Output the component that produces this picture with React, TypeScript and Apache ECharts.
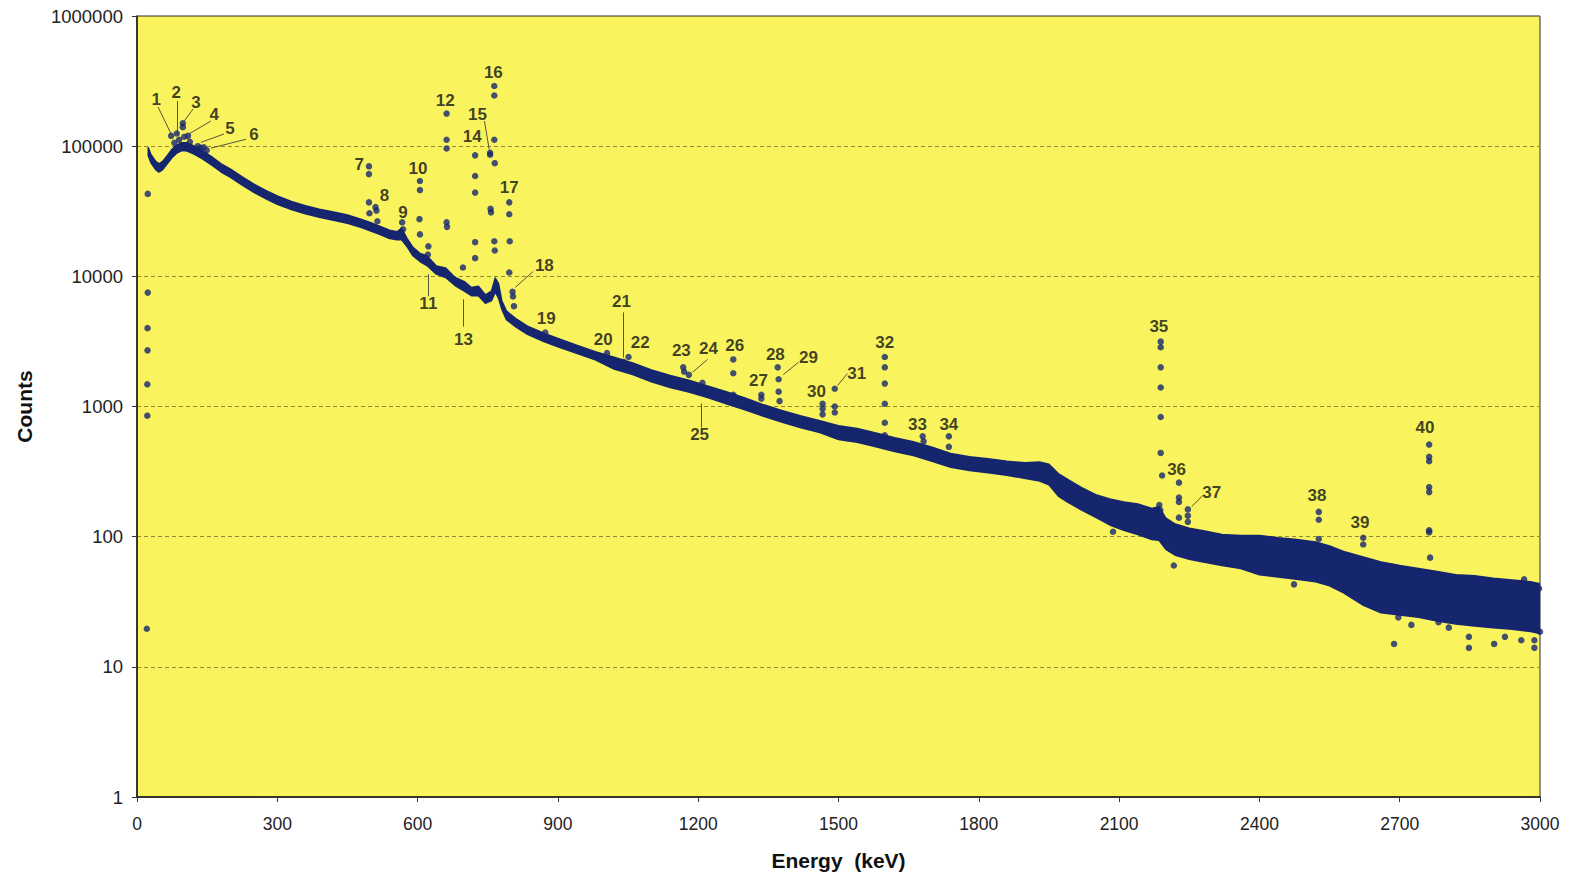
import React, { useEffect, useRef } from "react";
import * as echarts from "echarts";

// ---- axis ticks ----
const yTickLabels = ["1", "10", "100", "1000", "10000", "100000", "1000000"];

// ---- continuum band (energy keV, upper and lower edge of the dense band, counts) ----
const bandEnergy = [
  24, 30, 40, 47, 55, 65, 75, 85, 95, 105,
  115, 125, 140, 160, 180, 200, 225, 250, 275, 300,
  330, 360, 390, 420, 450, 480, 500, 520, 540, 556,
  566, 576, 590, 605, 620, 640, 660, 680, 700, 715,
  730, 745, 758, 766, 773, 780, 790, 810, 835, 870,
  900, 940, 980, 1020, 1060, 1100, 1140, 1180, 1220, 1260,
  1300, 1340, 1380, 1420, 1460, 1500, 1540, 1580, 1620, 1660,
  1700, 1740, 1780, 1820, 1860, 1900, 1930, 1950, 1970, 1990,
  2020, 2050, 2080, 2110, 2140, 2170, 2185, 2200, 2220, 2250,
  2280, 2320, 2360, 2400, 2440, 2480, 2520, 2550, 2580, 2620,
  2660, 2700, 2740, 2780, 2820, 2860, 2900, 2940, 2980, 3000,
];
const bandUpper = [
  97800, 86000, 76300, 73100, 76300, 84900, 94600, 102000, 106400, 106400,
  103200, 98900, 92500, 82800, 73100, 66700, 58000, 51100, 45700, 41400,
  37600, 34900, 32800, 31200, 29600, 27400, 25800, 24200, 22600, 22000,
  23500, 19900, 16700, 15000, 14400, 12000, 11600, 9800, 9100, 8200,
  8400, 7200, 7700, 9700, 8800, 6500, 5400, 4730, 4140, 3650,
  3330, 2960, 2640, 2390, 2160, 1910, 1730, 1590, 1440, 1300,
  1165, 1030, 930, 845, 777, 712, 678, 627, 576, 537,
  486, 435, 412, 396, 379, 370, 375, 360, 305, 275,
  238, 210, 195, 185, 178, 165, 170, 139, 125, 116,
  111, 104, 102, 102, 98, 95, 91, 85, 77, 70,
  64, 60, 57, 54, 51, 50, 48, 46.5, 45, 43.5,
];
const bandLower = [
  84700, 74400, 66000, 63300, 66000, 73500, 81900, 88400, 92100, 92100,
  89300, 85600, 80000, 71600, 63300, 57700, 50200, 44200, 39500, 35800,
  32600, 30200, 28400, 27000, 25600, 23700, 22300, 20900, 19500, 19100,
  19100, 17200, 14400, 13000, 12100, 10400, 9800, 8500, 7700, 7100,
  7100, 6200, 6500, 7600, 6800, 5600, 4650, 4090, 3580, 3160,
  2880, 2560, 2280, 1940, 1760, 1550, 1400, 1290, 1170, 1050,
  945, 840, 757, 685, 630, 558, 531, 491, 451, 420,
  380, 341, 323, 310, 296, 280, 268, 250, 205, 184,
  160, 141, 123, 112, 104, 95, 94, 80, 72, 67,
  64, 60, 57, 51, 49, 47, 45, 42, 37, 30,
  26, 25, 24, 22.5, 21.3, 20.6, 20, 19.4, 18.7, 18,
];

// ---- peak channels standing out of the continuum [energy, counts] ----
const peakPoints: [number, number][] = [
  [21, 19.6], [22, 850], [22, 1480], [22.5, 2700], [22.5, 4000], [23, 7500], [23, 43000],
  [73, 120000], [80, 106000], [85, 125000], [90, 112000], [98, 150000], [98, 140000], [101, 118000],
  [109, 120000], [113, 108000], [130, 100000], [136, 97000], [143, 98000], [149, 93000],
  [496, 70000], [496, 61000], [496, 37000], [497, 30500],
  [510, 34000], [512, 32000], [514, 26500],
  [567, 26000], [569, 23000],
  [605, 54000], [605, 46000], [604, 27500], [605, 21000], [623, 17000], [622, 14700],
  [662, 178000], [662, 112000], [662, 96000], [662, 26000], [663, 24000],
  [697, 11700],
  [723, 85000], [723, 59000], [723, 44000], [723, 18300], [723, 13800],
  [755, 89000], [755, 86000], [756, 33000], [757, 31000],
  [764, 290000], [764, 245000], [764, 112000], [765, 74000], [764, 18600], [765, 15800],
  [796, 37000], [796, 30000], [797, 18600], [796, 10700],
  [803, 7600], [804, 7000], [806, 5900],
  [873, 3700], [1005, 2570], [1040, 2200], [1051, 2400],
  [1168, 2000], [1170, 1850], [1180, 1750], [1209, 1520],
  [1275, 2300], [1275, 1800], [1275, 1230], [1278, 1180],
  [1335, 1230], [1335, 1150],
  [1370, 2000], [1372, 1620], [1372, 1300], [1374, 1100],
  [1466, 1050], [1466, 960], [1466, 870],
  [1492, 1370], [1492, 1000], [1492, 900],
  [1599, 2400], [1599, 2000], [1599, 1500], [1599, 1050], [1599, 750], [1599, 600],
  [1680, 590], [1682, 540], [1736, 590], [1736, 490],
  [2189, 3150], [2189, 2850], [2189, 2000], [2189, 1400], [2189, 830], [2189, 440], [2192, 295], [2186, 175], [2188, 160],
  [2228, 260], [2228, 200], [2228, 185], [2228, 140],
  [2247, 162], [2247, 145], [2247, 130],
  [2527, 155], [2527, 135], [2527, 96],
  [2622, 98], [2622, 87],
  [2763, 510], [2763, 410], [2763, 380], [2763, 240], [2763, 220], [2763, 112], [2763, 108], [2765, 69],
];

// ---- isolated channels scattered off the band [energy, counts] ----
const strayPoints: [number, number][] = [
  [2087, 109], [2217, 60], [2410, 96], [2474, 43], [2585, 70], [2682, 59], [2688, 15], [2697, 24],
  [2725, 21], [2783, 22], [2805, 20], [2848, 17], [2848, 14], [2850, 45], [2902, 15], [2925, 17],
  [2960, 16], [2966, 47], [2988, 16], [2988, 14], [2998, 40], [3000, 18.6],
];

// ---- peak numbers [label, energy, counts] ----
const peakLabels: [string, number, number][] = [
  ["1", 41, 230000], ["2", 84, 260000], ["3", 126, 218000], ["4", 165, 176000], ["5", 199, 137000],
  ["6", 250, 122000], ["7", 475, 72700], ["8", 529, 42000], ["9", 569, 31000], ["10", 601, 67700],
  ["11", 623, 6200], ["12", 659, 226000], ["13", 698, 3280], ["14", 717, 119000], ["15", 728, 176000],
  ["16", 762, 371000], ["17", 796, 48400], ["18", 871, 12200], ["19", 875, 4750], ["20", 997, 3280],
  ["21", 1036, 6420], ["22", 1076, 3100], ["23", 1164, 2700], ["24", 1222, 2790], ["25", 1203, 609],
  ["26", 1278, 2950], ["27", 1329, 1585], ["28", 1365, 2510], ["29", 1436, 2380], ["30", 1453, 1300],
  ["31", 1539, 1790], ["32", 1599, 3100], ["33", 1669, 727], ["34", 1736, 727], ["35", 2185, 4120],
  ["36", 2223, 328], ["37", 2298, 218], ["38", 2523, 207], ["39", 2615, 128], ["40", 2754, 689],
];

// ---- leader lines from numbers to peaks [e1, c1, e2, c2] ----
const leaderLines: [number, number, number, number][] = [
  [45, 200000, 73, 124000], [86, 222000, 86, 124000], [120, 193000, 101, 156000],
  [158, 156000, 111, 124000], [186, 124000, 137, 107000], [233, 113000, 158, 96500],
  [623, 10400, 623, 7020], [698, 6650, 698, 4120], [743, 156000, 753, 94800],
  [847, 10900, 809, 8230], [1040, 5290, 1040, 2380], [1220, 2300, 1188, 1830],
  [1207, 1055, 1207, 689], [1414, 2180, 1382, 1760], [1519, 1790, 1498, 1450],
  [2279, 207, 2255, 170],
];

const NAVY = "#15266f";
const FONT = "'Liberation Sans', Arial, Helvetica, sans-serif";

export default function App() {
  const ref = useRef<HTMLDivElement>(null);
  useEffect(() => {
    document.body.style.margin = "0";
    const chart = echarts.init(ref.current!, null, { renderer: "svg" });
    const option: any = {
      animation: false,
      backgroundColor: "#ffffff",
      grid: {
        left: 137, right: 31, top: 16, bottom: 82,
        show: true, backgroundColor: "#f9f45e", borderColor: "#2a2a2a", borderWidth: 1,
      },
      xAxis: {
        type: "value", min: 0, max: 3000, interval: 300,
        name: "Energy  (keV)", nameLocation: "middle", nameGap: 53,
        nameTextStyle: { fontSize: 21, fontWeight: "bold", color: "#111", fontFamily: FONT },
        axisLine: { show: true, lineStyle: { color: "#1a1a1a", width: 1.5 } },
        axisTick: { show: true, length: 5, lineStyle: { color: "#333" } },
        axisLabel: { fontSize: 17.5, color: "#222", margin: 18, fontFamily: FONT, formatter: (v: number) => String(v) },
        splitLine: { show: false },
      },
      yAxis: {
        type: "log", logBase: 10, min: 1, max: 1000000,
        name: "Counts", nameLocation: "middle", nameGap: 102,
        nameTextStyle: { fontSize: 21, fontWeight: "bold", color: "#111", fontFamily: FONT },
        axisLine: { show: true, lineStyle: { color: "#1a1a1a", width: 1.5 } },
        axisTick: { show: true, length: 5, lineStyle: { color: "#333" } },
        axisLabel: {
          fontSize: 18.5, color: "#222", margin: 14, fontFamily: FONT,
          formatter: (v: number) => yTickLabels[Math.round(Math.log10(v))] ?? String(v),
        },
        splitLine: { show: true, lineStyle: { color: "#8e8a3a", type: [4, 3], width: 1 } },
      },
      series: [
        {
          type: "custom",
          silent: true,
          clip: true,
          data: [[bandEnergy[0], bandUpper[0]]],
          renderItem: (_params: any, api: any) => {
            const pts: number[][] = [];
            for (let i = 0; i < bandEnergy.length; i++) pts.push(api.coord([bandEnergy[i], bandUpper[i]]));
            for (let i = bandEnergy.length - 1; i >= 0; i--) pts.push(api.coord([bandEnergy[i], bandLower[i]]));
            return {
              type: "polygon",
              shape: { points: pts },
              style: { fill: NAVY, stroke: NAVY, lineWidth: 1.5, lineJoin: "round" },
            };
          },
        },
        {
          type: "scatter", symbol: "circle", symbolSize: 6.5, silent: true,
          itemStyle: { color: NAVY },
          data: peakPoints,
        },
        {
          type: "scatter", symbol: "circle", symbolSize: 6.5, silent: true,
          itemStyle: { color: NAVY },
          data: strayPoints,
        },
        {
          type: "lines", coordinateSystem: "cartesian2d", silent: true,
          lineStyle: { color: "#55553a", width: 1, opacity: 1, curveness: 0 },
          data: leaderLines.map(([e1, c1, e2, c2]) => ({ coords: [[e1, c1], [e2, c2]] })),
        },
        {
          type: "scatter", symbol: "circle", symbolSize: 1, silent: true,
          itemStyle: { color: "rgba(0,0,0,0)" },
          label: {
            show: true, position: "inside", formatter: "{b}",
            fontSize: 17, fontWeight: "bold", color: "#111", fontFamily: FONT,
          },
          data: peakLabels.map(([n, e, c]) => ({ name: n, value: [e, c] })),
        },
      ],
    };
    chart.setOption(option);
    return () => chart.dispose();
  }, []);
  return <div ref={ref} style={{ width: 1571, height: 879 }} />;
}
